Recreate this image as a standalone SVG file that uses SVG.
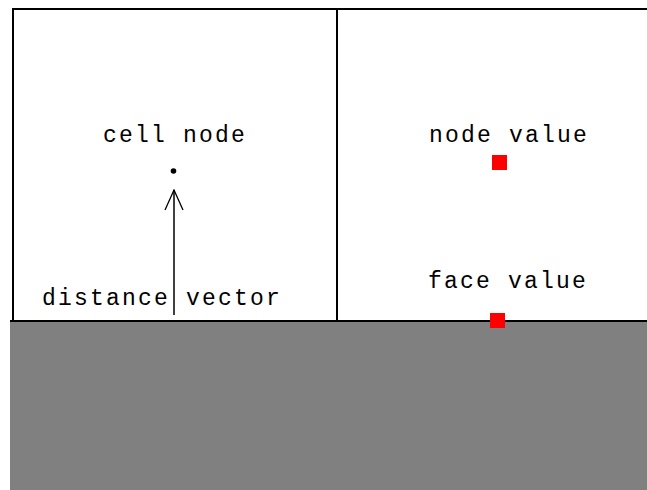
<svg xmlns="http://www.w3.org/2000/svg" width="647" height="490" viewBox="0 0 647 490">
<style>
text{font-family:"Liberation Mono","Courier New",monospace;font-size:23px;letter-spacing:2.2px;fill:#000;text-anchor:middle}
.frame{stroke:#000;stroke-width:2;fill:none}
.val{fill:#ff0000}
</style>
<defs>
<marker id="open" viewBox="0 0 22 20" refX="21" refY="10" markerWidth="22" markerHeight="20" markerUnits="userSpaceOnUse" orient="auto">
<path d="M1,1 L21,10 L1,19" fill="none" stroke="#000" stroke-width="1.3"/>
</marker>
</defs>
<rect width="647" height="490" fill="#fff"/>
<g id="ground"><rect x="10" y="321" width="637" height="169" fill="#808080"/></g>
<g id="grid">
<path class="frame" d="M13,321 V9 H647"/>
<path class="frame" d="M337,9 V321"/>
<path class="frame" d="M10,321 H647"/>
</g>
<g id="cell-node">
<text x="175" y="142">cell node</text>
<circle cx="173.5" cy="171" r="2.8" fill="#000"/>
</g>
<g id="node-value">
<text x="509" y="142">node value</text>
<rect class="val" x="492" y="155" width="15" height="15"/>
</g>
<g id="face-value">
<text x="508" y="288">face value</text>
<rect class="val" x="490" y="313" width="15" height="15"/>
</g>
<g id="connectors">
<line x1="174" y1="315" x2="174" y2="190" stroke="#000" stroke-width="1.5" marker-end="url(#open)"/>
</g>
<g id="distance-label">
<text x="162" y="305">distance vector</text>
</g>
</svg>
